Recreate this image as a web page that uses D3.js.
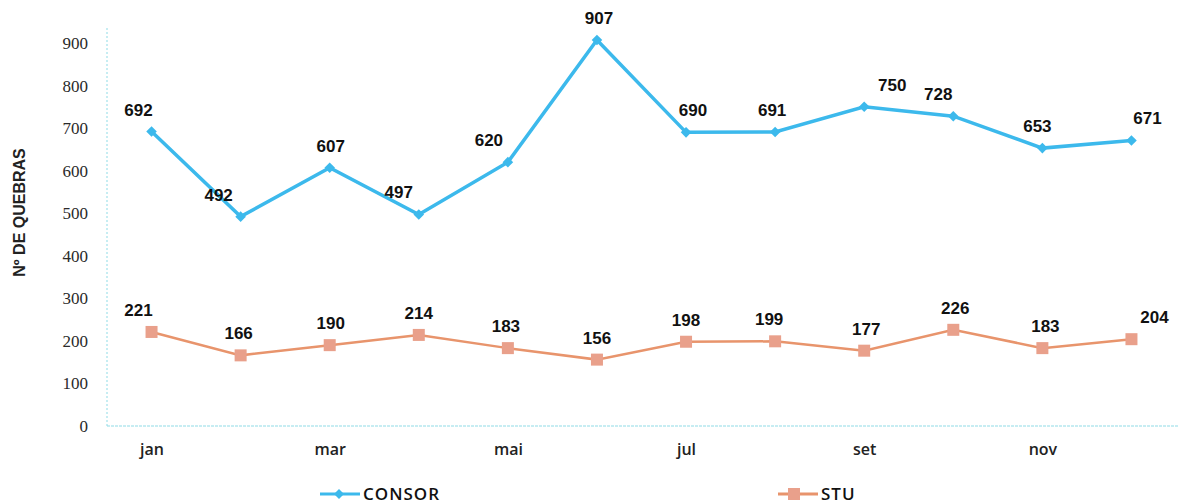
<!DOCTYPE html>
<html>
<head>
<meta charset="utf-8">
<script src="https://cdn.jsdelivr.net/npm/d3@7"></script>
<style>
  body { margin: 0; background: #fff; }
</style>
</head>
<body>
<svg id="chart"></svg>
<script>
// data
var months = ["jan","fev","mar","abr","mai","jun","jul","ago","set","out","nov","dez"];
var shownMonths = ["jan","mar","mai","jul","set","nov"];
var consor = [692, 492, 607, 497, 620, 907, 690, 691, 750, 728, 653, 671];
var stu = [221, 166, 190, 214, 183, 156, 198, 199, 177, 226, 183, 204];
var yTicks = [0, 100, 200, 300, 400, 500, 600, 700, 800, 900];

// label nudges (px) so numbers sit like the original
var consorDx = [-13, -22, 1, -20, -19, 2, 7, -3, 28, -15, -5, 16];
var stuDx = [-13, -2, 1, 0, -2, 0, 0, -6, 2, 2, 3, 23];

var W = 1180, H = 504;
var margin = {top: 43, right: 4, bottom: 78, left: 107},
    width = W - margin.left - margin.right,
    height = H - margin.top - margin.bottom;

var svg = d3.select("#chart")
    .attr("width", W)
    .attr("height", H)
  .append("g")
    .attr("transform", "translate(" + margin.left + "," + margin.top + ")");

var x = d3.scalePoint()
    .domain(months)
    .range([0, width])
    .padding(0.5);

var y = d3.scaleLinear()
    .domain([0, 900])
    .range([height, 0]);

// axes lines (dotted, light cyan)
svg.append("line")
    .attr("x1", 0).attr("x2", 0)
    .attr("y1", -15).attr("y2", height)
    .attr("stroke", "#8fdbe6")
    .attr("stroke-dasharray", "2,2");
svg.append("line")
    .attr("x1", 0).attr("x2", width + 2)
    .attr("y1", height).attr("y2", height)
    .attr("stroke", "#8fdbe6")
    .attr("stroke-dasharray", "3,1");

// y axis
var yAxis = svg.append("g")
    .attr("font-family", "'Liberation Serif', serif")
    .call(d3.axisLeft(y).tickValues(yTicks).tickSize(0).tickPadding(19));
yAxis.attr("font-family", "'Liberation Serif', serif").attr("font-size", 17);
yAxis.select(".domain").remove();
yAxis.selectAll("text")
    .attr("fill", "#2a2a2a");

// x axis
var xAxis = svg.append("g")
    .attr("transform", "translate(0," + height + ")")
    .call(d3.axisBottom(x).tickValues(shownMonths).tickSize(0).tickPadding(18));
xAxis.attr("font-family", "'Open Sans', sans-serif").attr("font-size", 16);
xAxis.select(".domain").remove();
xAxis.selectAll("text")
    .style("font-weight", "600")
    .attr("fill", "#222");

// y title
svg.append("text")
    .attr("transform", "rotate(-90)")
    .attr("x", -(height / 2) + 22)
    .attr("y", -82)
    .style("text-anchor", "middle")
    .style("font-family", "'Liberation Sans', Arial, sans-serif")
    .style("font-size", "16px")
    .style("font-weight", "bold")
    .attr("fill", "#222")
    .text("Nº DE QUEBRAS");

var line = d3.line()
    .x(function(d, i) { return x(months[i]); })
    .y(function(d) { return y(d); });

// CONSOR
svg.append("path")
    .datum(consor)
    .attr("fill", "none")
    .attr("stroke", "#3cb9ec")
    .attr("stroke-width", 3.5)
    .attr("d", line);
svg.selectAll(".consorPt")
    .data(consor)
  .enter().append("path")
    .attr("class", "consorPt")
    .attr("transform", function(d, i) { return "translate(" + x(months[i]) + "," + y(d) + ") rotate(45)"; })
    .attr("d", d3.symbol().type(d3.symbolSquare).size(56))
    .attr("fill", "#3cb9ec");
svg.selectAll(".consorLbl")
    .data(consor)
  .enter().append("text")
    .attr("class", "consorLbl")
    .attr("x", function(d, i) { return x(months[i]) + consorDx[i]; })
    .attr("y", function(d) { return y(d) - 16; })
    .style("text-anchor", "middle")
    .style("font-family", "'Liberation Sans', Arial, sans-serif")
    .style("font-size", "17px")
    .style("font-weight", "bold")
    .attr("fill", "#111")
    .text(function(d) { return d; });

// STU
svg.append("path")
    .datum(stu)
    .attr("fill", "none")
    .attr("stroke", "#e8946c")
    .attr("stroke-width", 2.5)
    .attr("d", line);
svg.selectAll(".stuPt")
    .data(stu)
  .enter().append("rect")
    .attr("class", "stuPt")
    .attr("x", function(d, i) { return x(months[i]) - 6; })
    .attr("y", function(d) { return y(d) - 6; })
    .attr("width", 12)
    .attr("height", 12)
    .attr("fill", "#e9a08b");
svg.selectAll(".stuLbl")
    .data(stu)
  .enter().append("text")
    .attr("class", "stuLbl")
    .attr("x", function(d, i) { return x(months[i]) + stuDx[i]; })
    .attr("y", function(d) { return y(d) - 16; })
    .style("text-anchor", "middle")
    .style("font-family", "'Liberation Sans', Arial, sans-serif")
    .style("font-size", "17px")
    .style("font-weight", "bold")
    .attr("fill", "#111")
    .text(function(d) { return d; });

// legend
var legend = d3.select("#chart").append("g");
var items = [
  {name: "CONSOR", color: "#3cb9ec", x: 320, shape: "diamond"},
  {name: "STU", color: "#e8946c", x: 778, shape: "square"}
];
items.forEach(function(it) {
  var g = legend.append("g").attr("transform", "translate(" + it.x + ",494)");
  g.append("line")
    .attr("x1", 0).attr("x2", 40)
    .attr("stroke", it.color)
    .attr("stroke-width", 3);
  if (it.shape === "diamond") {
    g.append("path")
      .attr("transform", "translate(19,0) rotate(45)")
      .attr("d", d3.symbol().type(d3.symbolSquare).size(50))
      .attr("fill", it.color);
  } else {
    g.append("rect")
      .attr("x", 10).attr("y", -6)
      .attr("width", 12).attr("height", 12)
      .attr("fill", "#e9a08b");
  }
  g.append("text")
    .attr("x", 43)
    .attr("y", 6)
    .style("font-family", "'Open Sans', sans-serif")
    .style("font-size", "17px")
    .style("font-weight", "600")
    .style("letter-spacing", "1px")
    .attr("fill", "#111")
    .text(it.name);
});
</script>
</body>
</html>
